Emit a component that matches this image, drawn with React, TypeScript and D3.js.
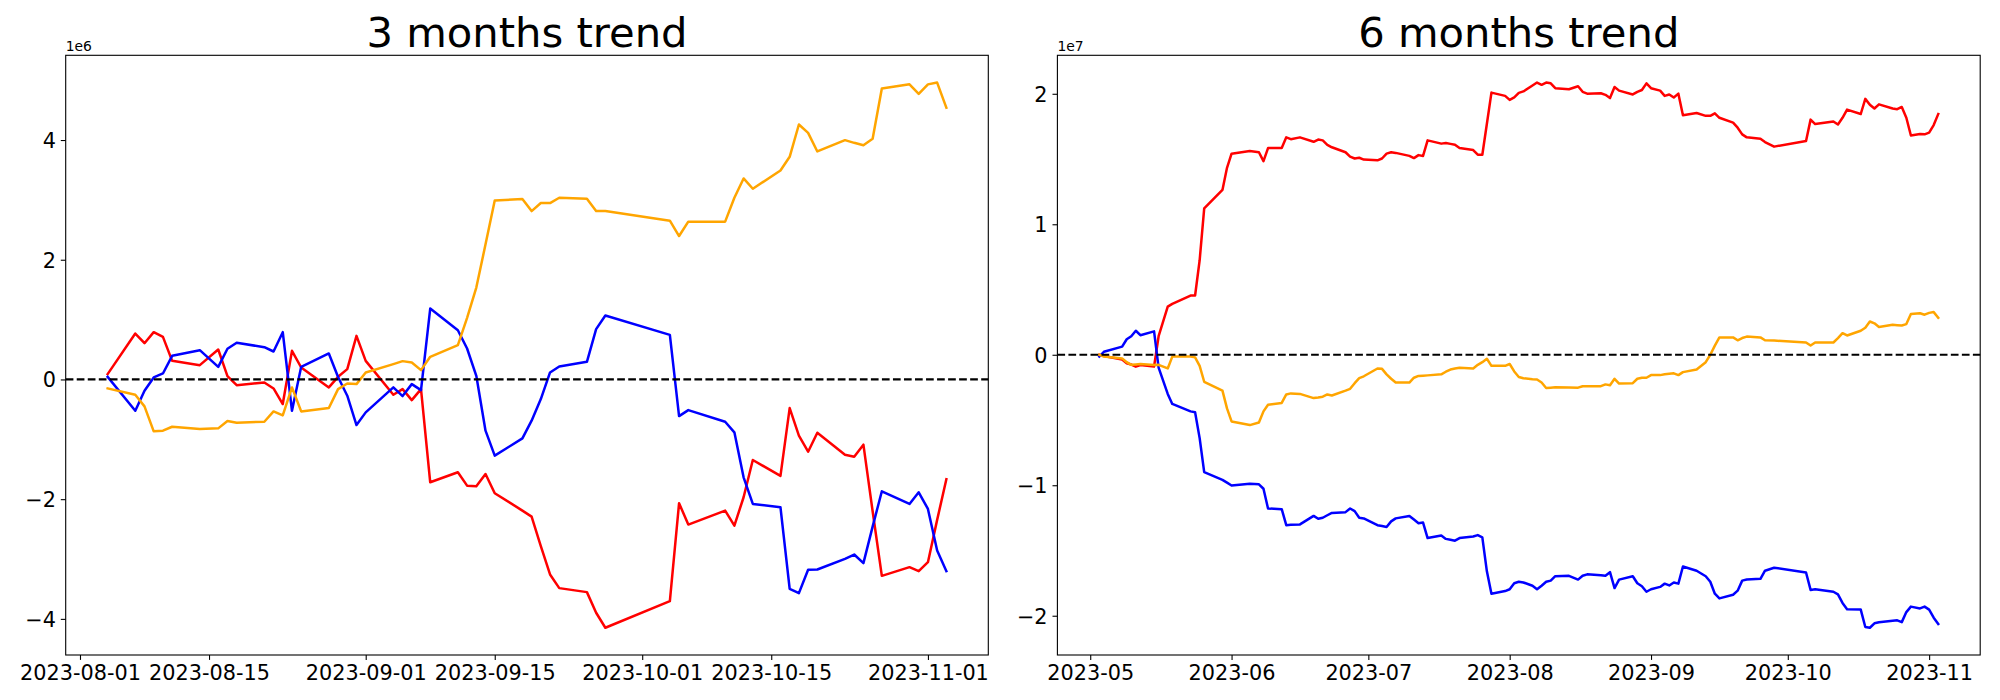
import React, { useEffect, useRef } from "react";
import * as d3 from "d3";

// 3 months panel, x = days after start3m, values in units of 1e6
const start3m = "2023-08-01";
const days3m = [
  3, 6, 7, 8, 9, 10, 13, 15, 16, 17,
  20, 21, 22, 23, 24, 27, 28, 29, 30, 31,
  34, 35, 36, 37, 38, 41, 42, 43, 44, 45,
  48, 49, 50, 51, 52, 55, 56, 57, 64, 65,
  66, 70, 71, 72, 73, 76, 77, 78, 79, 80,
  83, 84, 85, 86, 87, 90, 91, 92, 93, 94,
];
const red3m = [
  0.089, 0.767, 0.606, 0.79, 0.712, 0.311, 0.239, 0.5, 0.056, -0.095,
  -0.05, -0.15, -0.411, 0.478, 0.2, -0.133, 0.044, 0.172, 0.728, 0.311,
  -0.256, -0.161, -0.345, -0.161, -1.718, -1.551, -1.774, -1.785, -1.579, -1.902,
  -2.191, -2.291, -2.786, -3.258, -3.486, -3.553, -3.898, -4.148, -3.703, -2.068,
  -2.424, -2.191, -2.441, -1.968, -1.346, -1.612, -0.478, -0.94, -1.207, -0.89,
  -1.257, -1.29, -1.09, -2.202, -3.281, -3.136, -3.203, -3.053, -2.346, -1.668,
];
const blue3m = [
  0.044, -0.523, -0.189, 0.033, 0.1, 0.395, 0.489, 0.211, 0.512, 0.612,
  0.539, 0.467, 0.79, -0.523, 0.211, 0.434, 0.04, -0.272, -0.762, -0.55,
  -0.133, -0.278, -0.078, -0.178, 1.184, 0.823, 0.517, 0.061, -0.856, -1.273,
  -0.984, -0.689, -0.328, 0.117, 0.217, 0.295, 0.84, 1.068, 0.745, -0.612,
  -0.512, -0.706, -0.884, -1.635, -2.08, -2.135, -3.497, -3.57, -3.18, -3.175,
  -2.997, -2.925, -3.069, -2.458, -1.868, -2.08, -1.885, -2.163, -2.858, -3.203,
];
const orange3m = [
  -0.15, -0.256, -0.45, -0.867, -0.856, -0.79, -0.828, -0.817, -0.695, -0.723,
  -0.706, -0.534, -0.6, -0.133, -0.534, -0.478, -0.161, -0.067, -0.078, 0.117,
  0.256, 0.306, 0.284, 0.156, 0.378, 0.573, 1.03, 1.535, 2.257, 2.991,
  3.014, 2.813, 2.947, 2.947, 3.036, 3.019, 2.813, 2.813, 2.652, 2.396,
  2.636, 2.636, 3.036, 3.358, 3.186, 3.492, 3.72, 4.259, 4.12, 3.809,
  3.998, 3.953, 3.914, 4.02, 4.86, 4.93, 4.77, 4.93, 4.96, 4.54,
];
const xTicks3m = ["2023-08-01", "2023-08-15", "2023-09-01", "2023-09-15", "2023-10-01", "2023-10-15", "2023-11-01"];
const yTicks3m = [-4, -2, 0, 2, 4];

// 6 months panel, x = days after start6m, values in units of 1e7
const start6m = "2023-05-01";
const days6m = [
  2, 3, 7, 8, 9, 10, 11, 14, 15, 17,
  18, 22, 23, 24, 25, 29, 30, 31, 35, 37,
  38, 39, 42, 43, 44, 46, 49, 50, 51, 52,
  53, 56, 57, 58, 59, 60, 63, 64, 65, 66,
  67, 70, 71, 72, 73, 74, 77, 78, 79, 80,
  81, 84, 85, 86, 87, 88, 91, 92, 93, 94,
  95, 97, 98, 99, 100, 101, 102, 105, 107, 108,
  109, 112, 113, 114, 115, 116, 119, 120, 121, 122,
  123, 125, 126, 127, 128, 129, 130, 133, 135, 136,
  137, 138, 141, 142, 143, 144, 147, 148, 150, 157,
  158, 159, 163, 164, 165, 166, 169, 170, 171, 172,
  173, 176, 177, 178, 179, 180, 182, 183, 184, 185,
  186,
];
const red6m = [
  0, -0.01, -0.037, -0.065, -0.075, -0.091, -0.079, -0.091, 0.142, 0.369,
  0.39, 0.454, 0.454, 0.724, 1.121, 1.263, 1.433, 1.541, 1.561, 1.552,
  1.484, 1.584, 1.584, 1.666, 1.652, 1.666, 1.632, 1.649, 1.643, 1.609,
  1.59, 1.552, 1.518, 1.504, 1.51, 1.496, 1.49, 1.504, 1.541, 1.552,
  1.547, 1.524, 1.507, 1.53, 1.524, 1.643, 1.618, 1.623, 1.616, 1.609,
  1.584, 1.569, 1.533, 1.533, 1.77, 2.009, 1.984, 1.953, 1.972, 2.007,
  2.018, 2.063, 2.086, 2.069, 2.086, 2.08, 2.043, 2.035, 2.058, 2.015,
  2.001, 2.004, 1.992, 1.967, 2.052, 2.024, 1.995, 2.015, 2.029, 2.08,
  2.043, 2.024, 1.984, 1.995, 1.972, 2.001, 1.836, 1.853, 1.831, 1.831,
  1.85, 1.816, 1.779, 1.74, 1.689, 1.666, 1.655, 1.63, 1.595, 1.638,
  1.802, 1.768, 1.788, 1.765, 1.816, 1.879, 1.845, 1.961, 1.916, 1.887,
  1.919, 1.887, 1.882, 1.899, 1.816, 1.68, 1.691, 1.689, 1.703, 1.76,
  1.845,
];
const blue6m = [
  -0.014, 0.023, 0.062, 0.119, 0.142, 0.184, 0.15, 0.179, -0.099, -0.3,
  -0.377, -0.434, -0.44, -0.639, -0.9, -0.959, -0.98, -1.002, -0.988, -0.993,
  -1.027, -1.178, -1.183, -1.306, -1.303, -1.3, -1.235, -1.257, -1.249, -1.23,
  -1.212, -1.206, -1.178, -1.198, -1.249, -1.254, -1.306, -1.313, -1.32, -1.277,
  -1.254, -1.235, -1.263, -1.291, -1.286, -1.405, -1.385, -1.411, -1.418, -1.425,
  -1.405, -1.393, -1.382, -1.399, -1.66, -1.831, -1.811, -1.797, -1.751, -1.74,
  -1.745, -1.77, -1.797, -1.77, -1.74, -1.731, -1.697, -1.694, -1.723, -1.694,
  -1.683, -1.689, -1.694, -1.666, -1.788, -1.723, -1.697, -1.751, -1.774, -1.816,
  -1.797, -1.779, -1.754, -1.768, -1.745, -1.754, -1.623, -1.655, -1.697, -1.74,
  -1.831, -1.867, -1.839, -1.808, -1.731, -1.723, -1.717, -1.655, -1.632, -1.669,
  -1.802, -1.797, -1.816, -1.836, -1.902, -1.95, -1.953, -2.086, -2.092, -2.058,
  -2.05, -2.038, -2.035, -2.049, -1.972, -1.93, -1.944, -1.93, -1.953, -2.015,
  -2.063,
];
const orange6m = [
  0, -0.014, -0.028, -0.057, -0.077, -0.074, -0.071, -0.079, -0.077, -0.105,
  -0.014, -0.014, -0.02, -0.085, -0.207, -0.275, -0.411, -0.511, -0.539, -0.519,
  -0.434, -0.383, -0.369, -0.304, -0.296, -0.3, -0.332, -0.327, -0.321, -0.304,
  -0.312, -0.275, -0.261, -0.218, -0.179, -0.165, -0.105, -0.108, -0.15, -0.184,
  -0.213, -0.213, -0.176, -0.162, -0.16, -0.158, -0.15, -0.13, -0.113, -0.106,
  -0.099, -0.105, -0.077, -0.057, -0.031, -0.085, -0.085, -0.071, -0.128, -0.17,
  -0.18, -0.188, -0.19, -0.213, -0.255, -0.252, -0.249, -0.25, -0.252, -0.241,
  -0.241, -0.241, -0.227, -0.233, -0.184, -0.221, -0.218, -0.184, -0.176, -0.176,
  -0.156, -0.156, -0.15, -0.146, -0.142, -0.156, -0.133, -0.113, -0.057, 0,
  0.07, 0.133, 0.133, 0.111, 0.128, 0.139, 0.133, 0.111, 0.109, 0.094,
  0.071, 0.094, 0.094, 0.128, 0.165, 0.148, 0.184, 0.207, 0.255, 0.241,
  0.213, 0.23, 0.227, 0.224, 0.235, 0.312, 0.318, 0.307, 0.321, 0.327,
  0.284,
];
const xTicks6m = ["2023-05-01", "2023-06-01", "2023-07-01", "2023-08-01", "2023-09-01", "2023-10-01", "2023-11-01"];
const yTicks6m = [-2, -1, 0, 1, 2];

const font = "DejaVu Sans, sans-serif";

const drawPanel = (svg, p) => {
  const parse = d3.utcParse("%Y-%m-%d");
  const base = parse(p.start);
  const dates = p.days.map((d) => d3.utcDay.offset(base, d));
  const [d0, d1] = d3.extent(dates);
  const padX = (+d1 - +d0) * 0.05;
  const x = d3.scaleTime()
    .domain([new Date(+d0 - padX), new Date(+d1 + padX)])
    .range([p.left, p.right]);

  const all = p.series.flatMap((s) => s.values);
  const [v0, v1] = d3.extent(all);
  const padY = (v1 - v0) * 0.05;
  const y = d3.scaleLinear().domain([v0 - padY, v1 + padY]).range([p.bottom, p.top]);

  const g = svg.append("g");

  // x axis
  const xAxis = g.append("g")
    .attr("transform", `translate(0,${p.bottom})`)
    .call(d3.axisBottom(x)
      .tickValues(p.xTicks.map(parse))
      .tickFormat(d3.utcFormat(p.xFmt))
      .tickSizeInner(4.9).tickSizeOuter(0).tickPadding(4.9));
  xAxis.select(".domain").remove();

  // y axis
  const yAxis = g.append("g")
    .attr("transform", `translate(${p.left},0)`)
    .call(d3.axisLeft(y)
      .tickValues(p.yTicks)
      .tickFormat(d3.format("d"))
      .tickSizeInner(4.9).tickSizeOuter(0).tickPadding(4.9));
  yAxis.select(".domain").remove();
  yAxis.selectAll("text").attr("dy", "0.36em");

  g.selectAll(".tick line").attr("stroke", "#000").attr("stroke-width", 1.1);
  g.selectAll(".tick text")
    .attr("fill", "#000")
    .style("font-family", font)
    .style("font-size", "20.8px");

  const line = d3.line()
    .x((d, i) => x(dates[i]))
    .y((d) => y(d));

  p.series.forEach((s) => {
    g.append("path")
      .datum(s.values)
      .attr("d", line)
      .attr("fill", "none")
      .attr("stroke", s.color)
      .attr("stroke-width", 2.5)
      .attr("stroke-linejoin", "round")
      .attr("stroke-linecap", "square");
  });

  // zero reference
  g.append("line")
    .attr("x1", p.left).attr("x2", p.right)
    .attr("y1", y(0)).attr("y2", y(0))
    .attr("stroke", "#000")
    .attr("stroke-width", 2.2)
    .attr("stroke-dasharray", "7.7,3.33");

  // frame
  g.append("rect")
    .attr("x", p.left).attr("y", p.top)
    .attr("width", p.right - p.left).attr("height", p.bottom - p.top)
    .attr("fill", "none")
    .attr("stroke", "#000")
    .attr("stroke-width", 1.1);

  g.append("text")
    .attr("x", (p.left + p.right) / 2)
    .attr("y", p.top - 8.3)
    .attr("text-anchor", "middle")
    .style("font-family", font)
    .style("font-size", "41.7px")
    .text(p.title);

  g.append("text")
    .attr("x", p.left)
    .attr("y", p.top - 4.8)
    .style("font-family", font)
    .style("font-size", "13.9px")
    .text(p.offset);
};

const App = () => {
  const svgRef = useRef(null);

  useEffect(() => {
    const svg = d3.select(svgRef.current);
    svg.selectAll("*").remove();
    svg.append("rect").attr("width", 2000).attr("height", 700).attr("fill", "#fff");

    drawPanel(svg, {
      title: "3 months trend",
      offset: "1e6",
      start: start3m,
      days: days3m,
      series: [
        { values: red3m, color: "red" },
        { values: blue3m, color: "blue" },
        { values: orange3m, color: "orange" },
      ],
      xTicks: xTicks3m,
      xFmt: "%Y-%m-%d",
      yTicks: yTicks3m,
      left: 65.7, right: 988.3, top: 55.3, bottom: 655,
    });

    drawPanel(svg, {
      title: "6 months trend",
      offset: "1e7",
      start: start6m,
      days: days6m,
      series: [
        { values: red6m, color: "red" },
        { values: blue6m, color: "blue" },
        { values: orange6m, color: "orange" },
      ],
      xTicks: xTicks6m,
      xFmt: "%Y-%m",
      yTicks: yTicks6m,
      left: 1057.4, right: 1980.2, top: 55.3, bottom: 655,
    });
  }, []);

  return (
    <svg
      ref={svgRef}
      width={2000}
      height={700}
      style={{ position: "absolute", left: 0, top: 0, display: "block" }}
    />
  );
};

export default App;
